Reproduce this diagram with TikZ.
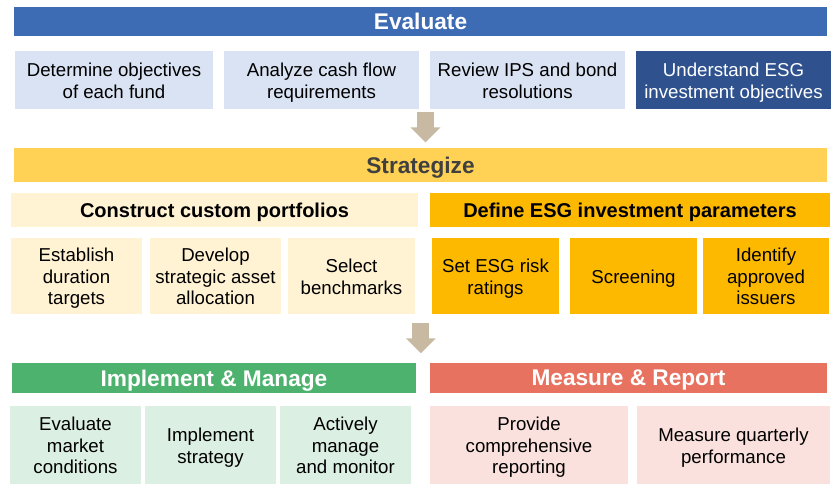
\documentclass[tikz,border=0pt]{standalone}
\usepackage{fontspec}
\setmainfont{Liberation Sans}
\usetikzlibrary{arrows.meta}

\definecolor{evalblue}{RGB}{62,108,180}
\definecolor{evallight}{RGB}{218,227,243}
\definecolor{evaldark}{RGB}{47,82,143}
\definecolor{stratbar}{RGB}{255,209,84}
\definecolor{stratlight}{RGB}{255,243,212}
\definecolor{stratgold}{RGB}{253,185,0}
\definecolor{implgreen}{RGB}{76,178,110}
\definecolor{impllight}{RGB}{220,239,227}
\definecolor{measred}{RGB}{232,114,96}
\definecolor{measlight}{RGB}{250,225,221}
\definecolor{arrowtan}{RGB}{200,186,162}
\definecolor{titlegray}{RGB}{64,64,64}

\tikzset{every picture/.style={line width=0.75pt}}
\tikzset{
  cell/.style={rectangle, inner sep=0pt, outer sep=0pt, anchor=north west, align=center, text depth=0pt},
  stagebar/.style={cell, font=\fontsize{17}{19}\selectfont\bfseries, text=white},
  subhead/.style={cell, font=\fontsize{15}{17}\selectfont\bfseries},
  task/.style={cell, font=\fontsize{14}{16.25}\selectfont, yshift=-1.1pt},
  flowarrow/.style={draw=arrowtan, line width=12.75pt, -{Triangle[length=11.25pt, width=21.75pt, fill=arrowtan]}}
}

\begin{document}
\begin{tikzpicture}[x=0.75pt,y=0.75pt,yscale=-1,xscale=1]
    \useasboundingbox (0,0) rectangle (832,483);

    %Evaluate
    \node [stagebar, fill=evalblue, minimum width=813*0.75pt, minimum height=29*0.75pt] (evaluate) at (14,7) {Evaluate};
    \node [task, fill=evallight, minimum width=198*0.75pt, minimum height=58*0.75pt] (objectives) at (15,50) {Determine objectives\\of each fund};
    \node [task, fill=evallight, minimum width=195*0.75pt, minimum height=58*0.75pt] (cashflow) at (224,50) {Analyze cash flow\\requirements};
    \node [task, fill=evallight, minimum width=195*0.75pt, minimum height=58*0.75pt] (ips) at (430,50) {Review IPS and bond\\resolutions};
    \node [task, fill=evaldark, text=white, minimum width=195*0.75pt, minimum height=58*0.75pt] (esgobj) at (636,50) {Understand ESG\\investment objectives};

    %Strategize
    \node [stagebar, fill=stratbar, text=titlegray, minimum width=813*0.75pt, minimum height=34*0.75pt] (strategize) at (14,148) {Strategize};
    \node [subhead, fill=stratlight, minimum width=407*0.75pt, minimum height=34*0.75pt] (construct) at (11,193) {Construct custom portfolios};
    \node [subhead, fill=stratgold, minimum width=400*0.75pt, minimum height=34*0.75pt] (esgparam) at (430,193) {Define ESG investment parameters};
    \node [task, fill=stratlight, minimum width=131*0.75pt, minimum height=76*0.75pt] (duration) at (11,237) {Establish\\duration\\targets};
    \node [task, fill=stratlight, minimum width=131*0.75pt, minimum height=76*0.75pt] (allocation) at (150,237) {Develop\\strategic asset\\allocation};
    \node [task, fill=stratlight, minimum width=127*0.75pt, minimum height=76*0.75pt] (benchmarks) at (288,237) {Select\\benchmarks};
    \node [task, fill=stratgold, minimum width=127*0.75pt, minimum height=76*0.75pt] (riskratings) at (432,237) {Set ESG risk\\ratings};
    \node [task, fill=stratgold, minimum width=127*0.75pt, minimum height=76*0.75pt] (screening) at (570,237) {Screening};
    \node [task, fill=stratgold, minimum width=126*0.75pt, minimum height=76*0.75pt] (issuers) at (703,237) {Identify\\approved\\issuers};

    %Implement & Manage
    \node [stagebar, fill=implgreen, minimum width=404*0.75pt, minimum height=30*0.75pt] (implement) at (12,363) {Implement \& Manage};
    \node [task, fill=impllight, minimum width=131*0.75pt, minimum height=78*0.75pt] (market) at (10,405) {Evaluate\\market\\conditions};
    \node [task, fill=impllight, minimum width=131*0.75pt, minimum height=78*0.75pt] (strategy) at (145,405) {Implement\\strategy};
    \node [task, fill=impllight, minimum width=131*0.75pt, minimum height=78*0.75pt] (monitor) at (280,405) {Actively\\manage\\and monitor};

    %Measure & Report
    \node [stagebar, fill=measred, minimum width=397*0.75pt, minimum height=30*0.75pt] (measure) at (430,363) {Measure \& Report};
    \node [task, fill=measlight, minimum width=198*0.75pt, minimum height=78*0.75pt] (reporting) at (430,405) {Provide\\comprehensive\\reporting};
    \node [task, fill=measlight, minimum width=193*0.75pt, minimum height=78*0.75pt] (quarterly) at (637,405) {Measure quarterly\\performance};

    %Arrows
    \coordinate (arrowAtop) at (425.5,111.7);
    \coordinate (arrowAtip) at (425.5,142.3);
    \coordinate (arrowBtop) at (420.8,323.3);
    \coordinate (arrowBtip) at (420.8,353.3);
    \draw [flowarrow] (arrowAtop) -- (arrowAtip);
    \draw [flowarrow] (arrowBtop) -- (arrowBtip);

\end{tikzpicture}
\end{document}
